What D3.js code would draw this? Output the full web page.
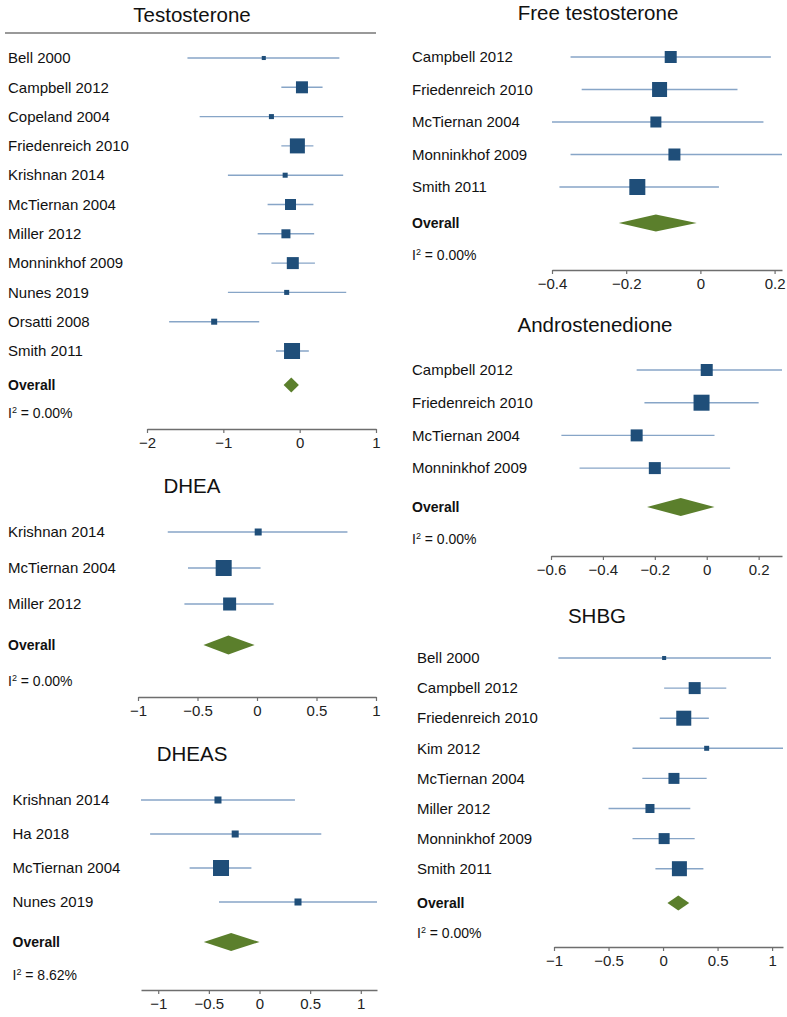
<!DOCTYPE html>
<html>
<head>
<meta charset="utf-8">
<script src="https://cdn.jsdelivr.net/npm/d3@7"></script>
<style>
  html, body { margin: 0; padding: 0; background: #fff; }
  svg { display: block; font-family: "Liberation Sans", Arial, sans-serif; }
</style>
</head>
<body>
<svg id="chart" width="787" height="1017"></svg>
<script>
// ---------------- DATA ----------------
// Testosterone
const tStudies = ["Bell 2000","Campbell 2012","Copeland 2004","Friedenreich 2010","Krishnan 2014","McTiernan 2004","Miller 2012","Monninkhof 2009","Nunes 2019","Orsatti 2008","Smith 2011"];
const tEst = [-0.47, 0.03, -0.37, -0.03, -0.19, -0.12, -0.18, -0.09, -0.17, -1.12, -0.10];
const tLo  = [-1.47, -0.24, -1.31, -0.24, -0.94, -0.42, -0.55, -0.37, -0.94, -1.71, -0.31];
const tHi  = [0.52, 0.30, 0.57, 0.18, 0.57, 0.18, 0.19, 0.20, 0.61, -0.53, 0.12];
const tWeight = [1.5, 13.1, 2.3, 20.5, 2.3, 11.0, 7.4, 13.1, 2.3, 3.3, 23.3];
const tOverall = [-0.11, -0.21, -0.01];
const tI2 = "0.00%";
const tTicks = [-2, -1, 0, 1];

// DHEA
const dStudies = ["Krishnan 2014","McTiernan 2004","Miller 2012"];
const dEst = [0.01, -0.28, -0.23];
const dLo  = [-0.75, -0.58, -0.61];
const dHi  = [0.76, 0.03, 0.14];
const dWeight = [10.3, 54.0, 35.7];
const dOverall = [-0.24, -0.45, -0.02];
const dI2 = "0.00%";
const dTicks = [-1, -0.5, 0, 0.5, 1];

// DHEAS
const sStudies = ["Krishnan 2014","Ha 2018","McTiernan 2004","Nunes 2019"];
const sEst = [-0.41, -0.24, -0.38, 0.38];
const sLo  = [-1.17, -1.08, -0.69, -0.40];
const sHi  = [0.35, 0.61, -0.08, 1.16];
const sWeight = [12.2, 12.2, 63.5, 12.2];
const sOverall = [-0.28, -0.55, 0.00];
const sI2 = "8.62%";
const sTicks = [-1, -0.5, 0, 0.5, 1];

// Free testosterone
const fStudies = ["Campbell 2012","Friedenreich 2010","McTiernan 2004","Monninkhof 2009","Smith 2011"];
const fEst = [-0.08, -0.11, -0.12, -0.07, -0.17];
const fLo  = [-0.35, -0.32, -0.41, -0.35, -0.38];
const fHi  = [0.19, 0.10, 0.17, 0.22, 0.05];
const fWeight = [16.2, 25.3, 13.6, 16.2, 28.8];
const fOverall = [-0.12, -0.22, -0.01];
const fI2 = "0.00%";
const fTicks = [-0.4, -0.2, 0, 0.2];

// Androstenedione
const aStudies = ["Campbell 2012","Friedenreich 2010","McTiernan 2004","Monninkhof 2009"];
const aEst = [0.00, -0.02, -0.27, -0.20];
const aLo  = [-0.27, -0.24, -0.56, -0.49];
const aHi  = [0.29, 0.20, 0.03, 0.09];
const aWeight = [20.9, 37.2, 20.9, 20.9];
const aOverall = [-0.10, -0.23, 0.03];
const aI2 = "0.00%";
const aTicks = [-0.6, -0.4, -0.2, 0, 0.2];

// SHBG
const hStudies = ["Bell 2000","Campbell 2012","Friedenreich 2010","Kim 2012","McTiernan 2004","Miller 2012","Monninkhof 2009","Smith 2011"];
const hEst = [0.01, 0.29, 0.19, 0.40, 0.10, -0.12, 0.01, 0.15];
const hLo  = [-0.96, 0.01, -0.03, -0.28, -0.19, -0.50, -0.28, -0.07];
const hHi  = [0.99, 0.58, 0.42, 1.10, 0.40, 0.25, 0.29, 0.37];
const hWeight = [1.7, 15.0, 23.5, 2.6, 12.6, 8.5, 12.6, 23.5];
const hOverall = [0.14, 0.04, 0.24];
const hI2 = "0.00%";
const hTicks = [-1, -0.5, 0, 0.5, 1];

// ---------------- LAYOUT ----------------
const panels = [
  { title: "Testosterone", studies: tStudies, est: tEst, lo: tLo, hi: tHi, w: tWeight, overall: tOverall, i2: tI2, ticks: tTicks,
    titleX: 192, titleY: 22, labelX: 8, rowTop: 58, step: 29.3, overallY: 385, i2Y: 413, axisY: 429,
    domain: [-2, 1], range: [147, 376], maxBox: 16, diamondH: 15, rule: [5, 376, 33] },
  { title: "DHEA", studies: dStudies, est: dEst, lo: dLo, hi: dHi, w: dWeight, overall: dOverall, i2: dI2, ticks: dTicks,
    titleX: 192, titleY: 493, labelX: 8, rowTop: 532, step: 36, overallY: 645, i2Y: 681, axisY: 697,
    domain: [-1, 1], range: [138, 376], maxBox: 16, diamondH: 19 },
  { title: "DHEAS", studies: sStudies, est: sEst, lo: sLo, hi: sHi, w: sWeight, overall: sOverall, i2: sI2, ticks: sTicks,
    titleX: 192, titleY: 761, labelX: 12.5, rowTop: 800, step: 34, overallY: 942, i2Y: 975, axisY: 990,
    domain: [-1.17, 1.16], range: [141, 377], maxBox: 16, diamondH: 18 },
  { title: "Free testosterone", studies: fStudies, est: fEst, lo: fLo, hi: fHi, w: fWeight, overall: fOverall, i2: fI2, ticks: fTicks,
    titleX: 598, titleY: 20, labelX: 412, rowTop: 57, step: 32.5, overallY: 223, i2Y: 255, axisY: 270,
    domain: [-0.4, 0.22], range: [552, 782], maxBox: 16, diamondH: 17 },
  { title: "Androstenedione", studies: aStudies, est: aEst, lo: aLo, hi: aHi, w: aWeight, overall: aOverall, i2: aI2, ticks: aTicks,
    titleX: 595, titleY: 332, labelX: 412, rowTop: 370, step: 32.7, overallY: 507, i2Y: 539, axisY: 556,
    domain: [-0.6, 0.29], range: [551, 782], maxBox: 16, diamondH: 18 },
  { title: "SHBG", studies: hStudies, est: hEst, lo: hLo, hi: hHi, w: hWeight, overall: hOverall, i2: hI2, ticks: hTicks,
    titleX: 597, titleY: 623, labelX: 417, rowTop: 658, step: 30.1, overallY: 903, i2Y: 933, axisY: 947,
    domain: [-1, 1.1], range: [554, 783], maxBox: 15, diamondH: 15 }
];

const COL_BOX = "#1f4e79";
const COL_CI = "#87a5c7";
const COL_DIAMOND = "#5b7f2c";
const COL_AXIS = "#6e6e6e";
const fmt = d3.format("~g");

const svg = d3.select("#chart");

panels.forEach(p => {
  const g = svg.append("g");
  const x = d3.scaleLinear().domain(p.domain).range(p.range);
  const clampV = v => Math.max(p.domain[0], Math.min(p.domain[1], v));
  const y = d3.scaleLinear().domain([0, 1]).range([p.rowTop, p.rowTop + p.step]);
  const box = d3.scaleSqrt().domain([0, d3.max(p.w)]).range([0, p.maxBox]);

  // title
  g.append("text")
    .attr("x", p.titleX).attr("y", p.titleY)
    .attr("text-anchor", "middle")
    .attr("font-size", 20.5)
    .attr("fill", "#111")
    .text(p.title);

  if (p.rule) {
    g.append("line")
      .attr("x1", p.rule[0]).attr("x2", p.rule[1])
      .attr("y1", p.rule[2]).attr("y2", p.rule[2])
      .attr("stroke", "#777").attr("stroke-width", 1.3);
  }

  const rows = p.studies.map((s, i) => ({ s, est: p.est[i], lo: p.lo[i], hi: p.hi[i], w: p.w[i], i }));

  // labels
  g.selectAll(".lab").data(rows).enter().append("text")
    .attr("x", p.labelX).attr("y", d => y(d.i))
    .attr("dy", "0.35em")
    .attr("font-size", 15)
    .attr("fill", "#111")
    .text(d => d.s);

  // CI lines
  g.selectAll(".ci").data(rows).enter().append("line")
    .attr("x1", d => x(clampV(d.lo))).attr("x2", d => x(clampV(d.hi)))
    .attr("y1", d => y(d.i)).attr("y2", d => y(d.i))
    .attr("stroke", COL_CI).attr("stroke-width", 1.4);

  // boxes
  g.selectAll(".box").data(rows).enter().append("rect")
    .attr("x", d => x(d.est) - box(d.w) / 2)
    .attr("y", d => y(d.i) - box(d.w) / 2)
    .attr("width", d => box(d.w))
    .attr("height", d => box(d.w))
    .attr("fill", COL_BOX);

  // overall
  g.append("text")
    .attr("x", p.labelX).attr("y", p.overallY)
    .attr("dy", "0.35em")
    .attr("font-size", 14).attr("font-weight", "bold")
    .attr("fill", "#111")
    .text("Overall");

  const [oe, ol, oh] = p.overall;
  const hh = p.diamondH / 2;
  g.append("path")
    .attr("d", `M${x(ol)},${p.overallY} L${x(oe)},${p.overallY - hh} L${x(oh)},${p.overallY} L${x(oe)},${p.overallY + hh} Z`)
    .attr("fill", COL_DIAMOND);

  // I^2
  const it = g.append("text")
    .attr("x", p.labelX).attr("y", p.i2Y)
    .attr("dy", "0.35em")
    .attr("font-size", 14)
    .attr("fill", "#111");
  it.append("tspan").text("I");
  it.append("tspan").attr("font-size", 9).attr("dy", "-0.55em").text("2");
  it.append("tspan").attr("dy", "0.35em").text(" = " + p.i2);

  // axis
  const ax = g.append("g")
    .attr("transform", `translate(0,${p.axisY})`)
    .call(d3.axisBottom(x).tickValues(p.ticks).tickFormat(fmt).tickSize(4).tickPadding(4).tickSizeOuter(0));
  ax.select(".domain").attr("stroke", COL_AXIS).attr("stroke-width", 1.3);
  ax.selectAll(".tick line").attr("stroke", COL_AXIS).attr("stroke-width", 1.2);
  ax.selectAll(".tick text")
    .attr("font-size", 15)
    .attr("font-family", "\"Liberation Sans\", Arial, sans-serif")
    .attr("fill", "#222");
});
</script>
</body>
</html>
